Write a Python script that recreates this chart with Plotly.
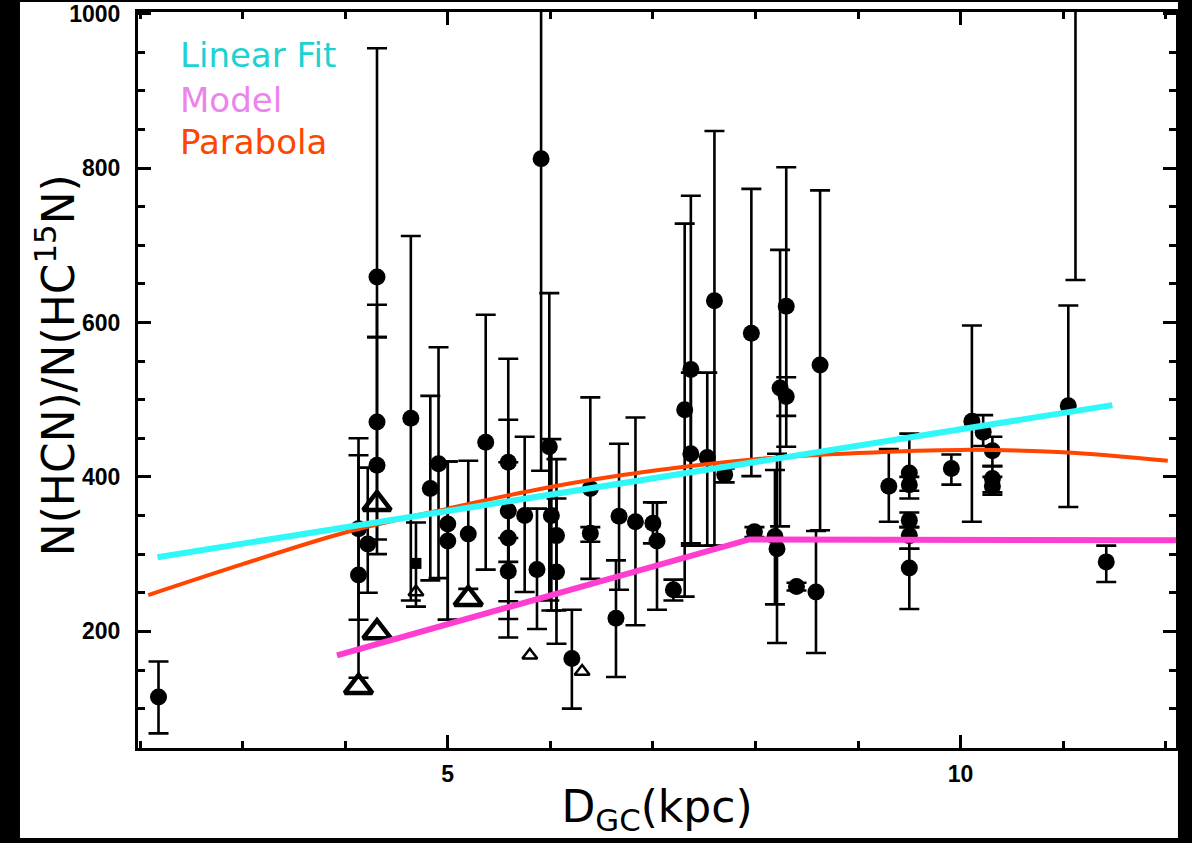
import plotly.graph_objects as go

# ---- data ----
# filled circles: x, y, upper bound, lower bound
circ_x = [2.18, 4.13, 4.13, 4.22, 4.31, 4.31, 4.31, 4.64, 4.83, 4.91, 5.00, 5.00, 5.20, 5.37,
          5.59, 5.59, 5.59, 5.59, 5.75, 5.87, 5.91, 5.99, 6.01, 6.06, 6.06, 6.21, 6.39, 6.39,
          6.64, 6.67, 6.83, 7.00, 7.04, 7.20, 7.31, 7.37, 7.37, 7.53, 7.60, 7.70, 7.96, 7.99,
          8.19, 8.21, 8.24, 8.30, 8.30, 8.40, 8.59, 8.63, 9.30, 9.50, 9.50, 9.50, 9.50, 9.50,
          9.91, 10.11, 10.22, 10.31, 10.31, 10.31, 11.05, 11.12, 11.42]
circ_y = [115, 273, 333, 313, 659, 471, 415, 476, 385, 417, 339, 317, 326, 445,
          419, 356, 321, 278, 350, 280, 812, 439, 350, 324, 277, 165, 385, 327,
          217, 349, 342, 340, 317, 254, 487, 539, 430, 425, 628, 403, 586, 329,
          323, 307, 515, 621, 504, 258, 251, 545, 388, 405, 390, 344, 324, 282,
          411, 472, 458, 434, 398, 388, 492, 1200, 290]
circ_hi = [161, 428, 450, 412, 955, 623, 581, 712, 505, 568, 420, 420, 421, 610,
           553, 474, 419, 321, 452, 359, 1100, 638, 449, 423, 372, 228, 503, 335,
           292, 443, 477, 367, 367, 267, 728, 764, 535, 535, 848, 411, 773, 335,
           409, 430, 694, 801, 529, 263, 330, 771, 436, 456, 400, 354, 335, 307,
           429, 596, 480, 452, 414, 400, 622, 1400, 311]
circ_lo = [68, 140, 215, 250, 581, 319, 300, 240, 266, 269, 215, 215, 255, 280,
           239, 290, 192, 216, 251, 203, 408, 240, 227, 184, 227, 100, 268, 316,
           141, 254, 208, 314, 228, 240, 245, 314, 311, 311, 311, 393, 401, 322,
           235, 185, 336, 479, 439, 253, 172, 331, 342, 382, 372, 335, 307, 229,
           390, 342, 440, 414, 380, 377, 361, 655, 264]

# small filled square with error bar
sq_x = [4.69]
sq_y = [288]
sq_hi = [341]
sq_lo = [232]

# open triangles
big_tri_x = [4.13, 4.31, 4.31, 5.20]
big_tri_y = [128, 365, 199, 242]
small_tri_x = [4.69, 5.80, 6.31]
small_tri_y = [251, 169, 148]

# fitted curves
lin_x = [2.17, 11.48]
lin_y = [296, 493]
model_x = [3.92, 7.94, 12.1]
model_y = [169, 319, 318]
para_x = [2.08, 3, 4, 5, 6, 7, 8, 9, 10, 11, 12.02]
para_y = [247, 287, 328, 359, 387, 408, 423, 431, 435, 432, 421]

CYAN_LINE = "#30F8F8"
CYAN_TEXT = "#1CD2D2"
MODEL_LINE = "#FF3DD0"
MODEL_TEXT = "#EE82EE"
PARA = "#FF4500"

fig = go.Figure()

fig.add_trace(go.Scatter(
    x=circ_x, y=circ_y, mode="markers",
    marker=dict(symbol="circle", size=17, color="black"),
    error_y=dict(type="data", symmetric=False,
                 array=[h - v for h, v in zip(circ_hi, circ_y)],
                 arrayminus=[v - l for v, l in zip(circ_y, circ_lo)],
                 color="black", thickness=2.6, width=10),
    showlegend=False))

fig.add_trace(go.Scatter(
    x=sq_x, y=sq_y, mode="markers",
    marker=dict(symbol="square", size=11, color="black"),
    error_y=dict(type="data", symmetric=False,
                 array=[h - v for h, v in zip(sq_hi, sq_y)],
                 arrayminus=[v - l for v, l in zip(sq_y, sq_lo)],
                 color="black", thickness=2.6, width=10),
    showlegend=False))

fig.add_trace(go.Scatter(
    x=big_tri_x, y=big_tri_y, mode="markers",
    marker=dict(symbol="triangle-up-open", size=24, color="black",
                line=dict(width=4.5, color="black")),
    showlegend=False))

fig.add_trace(go.Scatter(
    x=small_tri_x, y=small_tri_y, mode="markers",
    marker=dict(symbol="triangle-up-open", size=13, color="black",
                line=dict(width=2.5, color="black")),
    showlegend=False))

fig.add_trace(go.Scatter(x=para_x, y=para_y, mode="lines",
                         line=dict(color=PARA, width=4, shape="spline"),
                         showlegend=False))
fig.add_trace(go.Scatter(x=model_x, y=model_y, mode="lines",
                         line=dict(color=MODEL_LINE, width=6),
                         showlegend=False))
fig.add_trace(go.Scatter(x=lin_x, y=lin_y, mode="lines",
                         line=dict(color=CYAN_LINE, width=6),
                         showlegend=False))

# legend text
legend_items = [("Linear Fit", CYAN_TEXT, 0.9416),
                ("Model", MODEL_TEXT, 0.8804),
                ("Parabola", PARA, 0.8234)]
for txt, col, yy in legend_items:
    fig.add_annotation(text=txt, x=0.0385, y=yy, xref="paper", yref="paper",
                       xanchor="left", yanchor="middle", showarrow=False,
                       font=dict(family="DejaVu Sans", size=34, color=col))

# y axis title as rotated text
fig.add_annotation(text="N(HCN)/N(HC<sup>15</sup>N)", x=-0.080, y=0.52,
                   xref="paper", yref="paper", xanchor="center", yanchor="middle",
                   textangle=-90, showarrow=False,
                   font=dict(family="DejaVu Sans", size=44, color="black"))

# black frame around the white page
fig.add_shape(type="rect", xref="paper", yref="paper",
              x0=-0.1137, x1=1.0019, y0=-0.1223, y1=1.0136,
              fillcolor="white", line=dict(width=0), layer="below")

axis_common = dict(
    showgrid=False, zeroline=False, showline=True, linecolor="black", linewidth=3,
    mirror="ticks", ticks="inside", ticklen=13, tickwidth=2.5, tickcolor="black",
    automargin=False,
    tickfont=dict(family="Liberation Sans", size=23, color="black", weight="bold"),
)

fig.update_xaxes(range=[1.98, 12.1], tick0=0, dtick=5,
                 minor=dict(dtick=1, ticks="inside", ticklen=7, tickwidth=2.5, tickcolor="black"),
                 ticklabelstandoff=3,
                 title=dict(text="D<sub>GC</sub>(kpc)",
                            font=dict(family="DejaVu Sans", size=44, color="black"),
                            standoff=6),
                 **axis_common)
fig.update_yaxes(range=[49, 1002], tick0=0, dtick=200,
                 minor=dict(dtick=50, ticks="inside", ticklen=7, tickwidth=2.5, tickcolor="black"),
                 ticklabelstandoff=10,
                 **axis_common)

fig.update_layout(
    width=1192, height=843,
    margin=dict(l=138, r=16, t=12, b=95),
    paper_bgcolor="black", plot_bgcolor="white",
    showlegend=False,
)

fig.write_html(
    "out.html",
    config={"displayModeBar": False},
    post_script="document.body.style.margin='0';document.body.style.background='black';",
)
